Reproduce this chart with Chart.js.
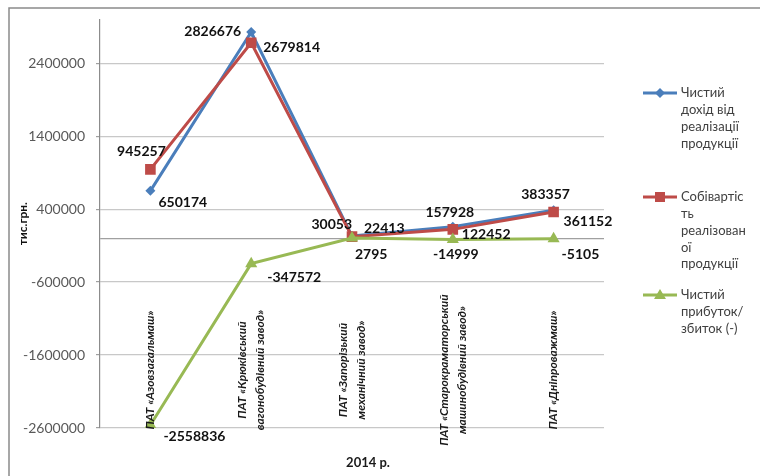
<!DOCTYPE html>
<html><head><meta charset="utf-8">
<script src="https://cdn.jsdelivr.net/npm/chart.js@4.4.1/dist/chart.umd.min.js"></script>
<style>html,body{margin:0;padding:0;background:#fff;} #wrap{width:760px;height:476px;position:relative;}</style>
</head><body><div id="wrap"><canvas id="c"></canvas></div>
<script>
// ---- data ----
const categories = [
  ["ПАТ «Азовзагальмаш»"],
  ["ПАТ «Крюківський", "вагонобудівний завод»"],
  ["ПАТ «Запорізький", "механічний завод»"],
  ["ПАТ «Старокраматорський", "машинобудівний завод»"],
  ["ПАТ «Дніпроважмаш»"]
];
const netRevenue  = [650174, 2826676, 30053, 157928, 383357];
const costOfSales = [945257, 2679814, 22413, 122452, 361152];
const netProfit   = [-2558836, -347572, 2795, -14999, -5105];
const seriesNames = [
  ["Чистий", "дохід від", "реалізації", "продукції"],
  ["Собівартіс", "ть", "реалізован", "ої", "продукції"],
  ["Чистий", "прибуток/", "збиток (-)"]
];
const yTickValues = [-2600000, -1600000, -600000, 400000, 1400000, 2400000];
const xTitle = "2014 р.";
const yTitle = "тис.грн.";

// ---- styling ----
const colors = ['#4a7ebb', '#be4b48', '#98b954'];
const markerStyles = ['rectRot', 'rect', 'triangle'];
const markerRadius = [5, 7.5, 7];
const labelOffsets = [
  [['left', 8, 12], ['right', -10, -1], ['right', 0, -12], ['center', -3, -14], ['center', -8, -16]],
  [['center', -9, -18], ['left', 12, 5], ['left', 12, -8], ['left', 9, 5], ['left', 10, 10]],
  [['left', 13, 11], ['left', 16, 14], ['left', 3, 16], ['center', 3, 15], ['left', 8, 16]]
];
const legendLayout = { lineX1: 643, lineX2: 677, textX: 681, itemY: [93, 197, 295], lineH: 16.8 };

const frameAndLabels = {
  id: 'frameAndLabels',
  beforeDraw(chart) {
    const ctx = chart.ctx;
    ctx.save();
    ctx.fillStyle = '#fff';
    ctx.fillRect(0, 0, chart.width, chart.height);
    ctx.strokeStyle = '#8a8a8a';
    ctx.lineWidth = 1.5;
    ctx.strokeRect(9, 8, chart.width + 20, chart.height + 20);
    ctx.restore();
  },
  afterDatasetsDraw(chart) {
    const ctx = chart.ctx;
    ctx.save();
    ctx.font = 'bold 14px Lato';
    ctx.fillStyle = '#111';
    ctx.textBaseline = 'middle';
    chart.data.datasets.forEach((ds, d) => {
      const meta = chart.getDatasetMeta(d);
      meta.data.forEach((pt, i) => {
        const [align, dx, dy] = labelOffsets[d][i];
        ctx.textAlign = align;
        ctx.fillText(String(ds.data[i]), pt.x + dx, pt.y + dy);
      });
    });
    ctx.restore();
  },
  afterDraw(chart) {
    const ctx = chart.ctx;
    const xs = chart.scales.x;
    const area = chart.chartArea;
    ctx.save();
    // category labels
    ctx.font = 'italic bold 12px Lato';
    ctx.fillStyle = '#1a1a1a';
    ctx.textAlign = 'center';
    ctx.textBaseline = 'middle';
    const lh = 18;
    categories.forEach((lines, i) => {
      const x = xs.getPixelForValue(i);
      lines.forEach((t, j) => {
        const lx = x + (j - (lines.length - 1) / 2) * lh;
        ctx.save();
        ctx.translate(lx, 370);
        ctx.rotate(-Math.PI / 2);
        ctx.fillText(t, 0, 0);
        ctx.restore();
      });
    });
    // x title
    ctx.font = 'bold 13px Lato';
    ctx.fillText(xTitle, (area.left + area.right) / 2 + 16, 463);
    // legend
    chart.data.datasets.forEach((ds, d) => {
      const y0 = legendLayout.itemY[d];
      ctx.strokeStyle = colors[d];
      ctx.lineWidth = 3;
      ctx.beginPath();
      ctx.moveTo(legendLayout.lineX1, y0);
      ctx.lineTo(legendLayout.lineX2, y0);
      ctx.stroke();
      const cx = (legendLayout.lineX1 + legendLayout.lineX2) / 2;
      ctx.fillStyle = colors[d];
      ctx.beginPath();
      if (d === 0) {
        ctx.moveTo(cx, y0 - 5); ctx.lineTo(cx + 5, y0); ctx.lineTo(cx, y0 + 5); ctx.lineTo(cx - 5, y0);
      } else if (d === 1) {
        ctx.rect(cx - 5, y0 - 5, 10, 10);
      } else {
        ctx.moveTo(cx, y0 - 6); ctx.lineTo(cx + 6, y0 + 4); ctx.lineTo(cx - 6, y0 + 4);
      }
      ctx.closePath();
      ctx.fill();
      ctx.font = '13px Lato';
      ctx.fillStyle = '#404040';
      ctx.textAlign = 'left';
      seriesNames[d].forEach((t, j) => {
        ctx.fillText(t, legendLayout.textX, y0 + j * legendLayout.lineH);
      });
    });
    ctx.restore();
  }
};

const datasets = [netRevenue, costOfSales, netProfit].map((arr, d) => ({
  label: seriesNames[d].join(' '),
  data: arr,
  borderColor: colors[d],
  backgroundColor: colors[d],
  borderWidth: 3,
  pointStyle: markerStyles[d],
  pointRadius: markerRadius[d],
  pointHoverRadius: markerRadius[d],
  pointBorderWidth: 0,
  tension: 0,
  order: 2 - d
}));

new Chart(document.getElementById('c'), {
  type: 'line',
  data: { labels: categories.map(l => l.join(' ')), datasets },
  plugins: [frameAndLabels],
  options: {
    responsive: true,
    maintainAspectRatio: false,
    animation: false,
    devicePixelRatio: 1,
    layout: { padding: { left: 0, right: 156, top: 18, bottom: 48 } },
    plugins: { legend: { display: false }, tooltip: { enabled: false }, title: { display: false } },
    scales: {
      x: { type: 'category', offset: true, display: false },
      y: {
        min: -2600000, max: 3000000,
        afterBuildTicks: (scale) => {
          scale.ticks = yTickValues.concat([0]).sort((a, b) => a - b).map(v => ({ value: v }));
        },
        afterFit: (scale) => { scale.width = 100; },
        ticks: {
          callback: (v) => v === 0 ? '' : String(v),
          font: { family: 'Lato', size: 14 },
          color: '#595959',
          padding: 11
        },
        grid: {
          color: (c) => c.tick && c.tick.value === 0 ? '#a0a0a0' : '#c8c8c8',
          tickColor: (c) => c.tick && c.tick.value === 0 ? 'rgba(0,0,0,0)' : '#a0a0a0',
          tickLength: 4,
          lineWidth: 1.2
        },
        border: { display: true, color: '#8c8c8c', width: 1.2 },
        title: {
          display: true, text: yTitle,
          font: { family: 'Lato', size: 12, weight: 'bold' },
          color: '#111',
          padding: { top: 16, bottom: 0 }
        }
      }
    }
  }
});
</script>
</body></html>
